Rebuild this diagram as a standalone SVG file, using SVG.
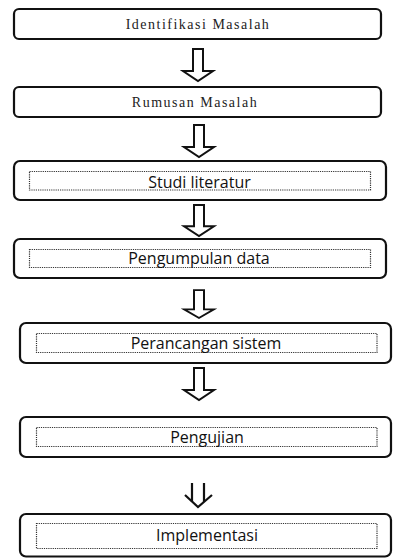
<svg xmlns="http://www.w3.org/2000/svg" width="393" height="558" viewBox="0 0 393 558">
<style>
.box{fill:#fff;stroke:#111;stroke-width:2.2}
.inner{fill:none;stroke:#333;stroke-width:1.2;stroke-dasharray:1.2 1}
.serif{font-family:"Liberation Serif","Times New Roman",serif;font-size:14px;fill:#222;letter-spacing:1.5px;text-anchor:middle}
.sans{font-family:"Open Sans","Noto Sans",sans-serif;font-size:16px;fill:#111;text-anchor:middle}
.arr{fill:#fff;stroke:#111;stroke-width:2;stroke-linejoin:miter}
</style>
<defs>
<path id="blk" d="M-5,0 H5 V22 H15 L0,32 L-15,22 H-5 Z"/>
</defs>
<rect width="393" height="558" fill="#fff"/>
<g id="connectors">
<use href="#blk" class="arr" transform="translate(198,49)"/>
<use href="#blk" class="arr" transform="translate(199,125)"/>
<use href="#blk" class="arr" transform="translate(199,205) scale(1,0.97)"/>
<use href="#blk" class="arr" transform="translate(199,290) scale(1,0.875)"/>
<use href="#blk" class="arr" transform="translate(199,368)"/>
<g fill="none" stroke="#111" stroke-width="2.2">
<path d="M192,483 V502 M204,483 V502"/>
<path d="M185,495 L198,507 L212,495"/>
</g>
</g>
<g id="n1">
<rect class="box" x="14" y="9" width="367" height="30" rx="5"/>
<text class="serif" x="198" y="28.5">Identifikasi Masalah</text>
</g>
<g id="n2">
<rect class="box" x="14" y="87" width="367" height="30" rx="5"/>
<text class="serif" x="195" y="106.5">Rumusan Masalah</text>
</g>
<g id="n3">
<rect class="box" x="14" y="161" width="372" height="39" rx="6"/>
<rect class="inner" x="29.5" y="171.5" width="341" height="18.5"/>
<text class="sans" x="199.5" y="188">Studi literatur</text>
</g>
<g id="n4">
<rect class="box" x="14" y="239" width="372" height="39" rx="6"/>
<rect class="inner" x="29.5" y="249.5" width="341" height="18"/>
<text class="sans" x="199" y="264">Pengumpulan data</text>
</g>
<g id="n5">
<rect class="box" x="20" y="323" width="371" height="40" rx="6"/>
<rect class="inner" x="36.5" y="333.5" width="340.5" height="19"/>
<text class="sans" x="206" y="349">Perancangan sistem</text>
</g>
<g id="n6">
<rect class="box" x="20" y="417" width="371" height="40" rx="6"/>
<rect class="inner" x="36.5" y="427.5" width="340.5" height="19"/>
<text class="sans" x="207" y="443">Pengujian</text>
</g>
<g id="n7">
<rect class="box" x="20" y="514" width="371" height="42.5" rx="6"/>
<rect class="inner" x="36.5" y="523.5" width="340.5" height="25"/>
<text class="sans" x="207" y="541">Implementasi</text>
</g>
</svg>
